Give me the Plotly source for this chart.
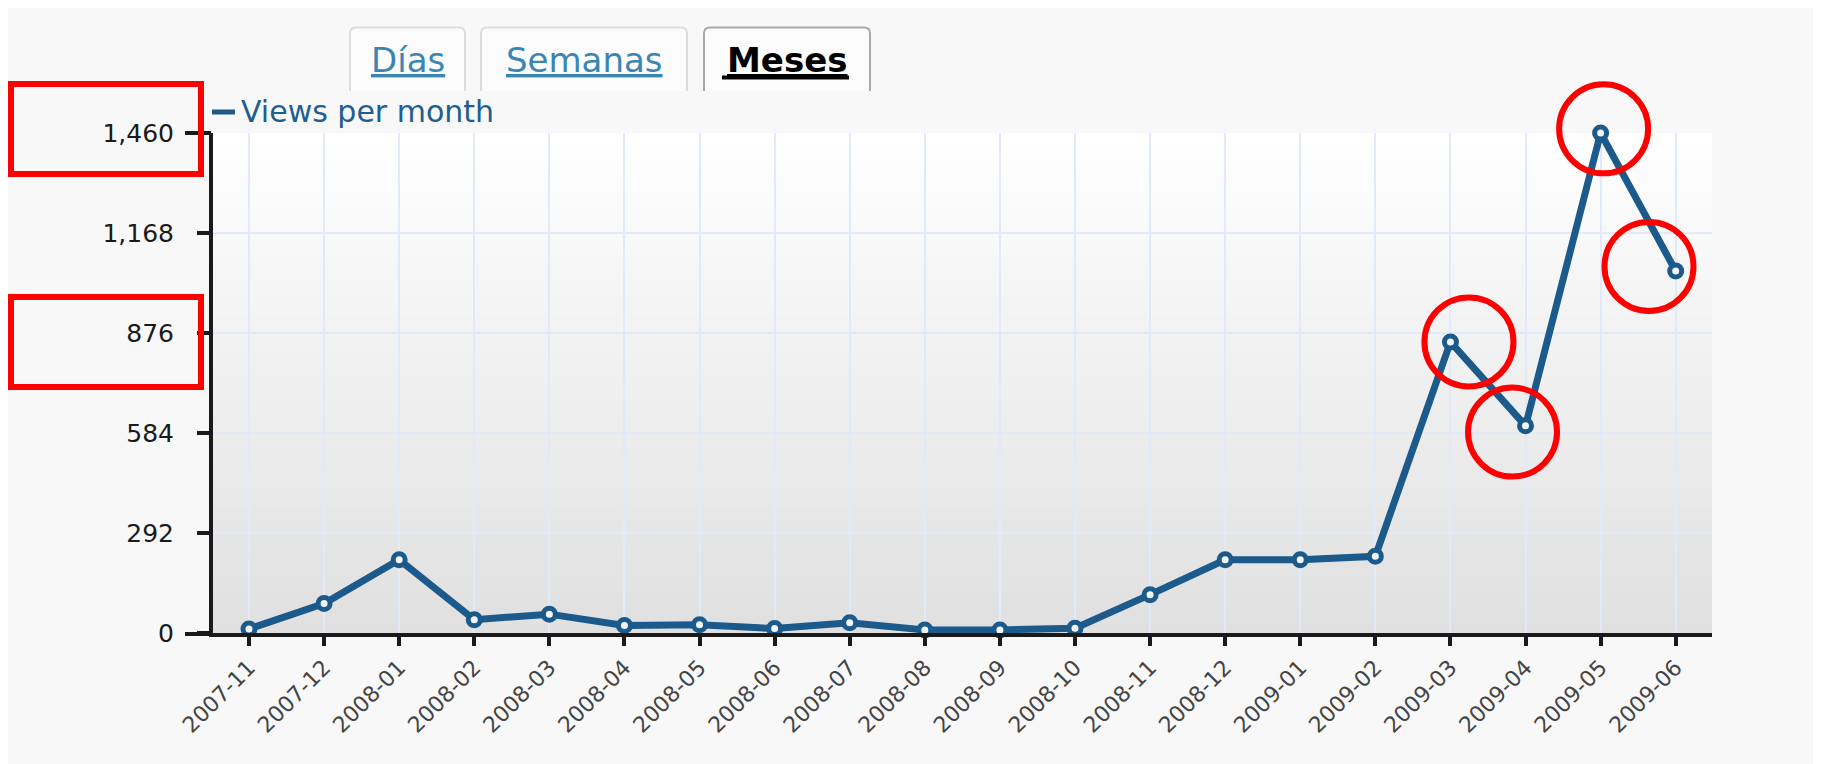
import plotly.graph_objects as go

# ---------------- data ----------------
MONTHS = ["2007-11", "2007-12", "2008-01", "2008-02", "2008-03", "2008-04",
          "2008-05", "2008-06", "2008-07", "2008-08", "2008-09", "2008-10",
          "2008-11", "2008-12", "2009-01", "2009-02", "2009-03", "2009-04",
          "2009-05", "2009-06"]
VIEWS = [12, 86, 214, 39, 55, 22, 24, 13, 30, 9, 9, 14,
         112, 214, 214, 224, 850, 605, 1460, 1057]
Y_TICKS = [0, 292, 584, 876, 1168, 1460]
SERIES_NAME = "Views per month"
TABS = ["Días", "Semanas", "Meses"]
HIGHLIGHT_MONTHS = ["2009-03", "2009-04", "2009-05", "2009-06"]
HIGHLIGHT_TICKS = [1460, 876]

# ---------------- geometry / style ----------------
OFF = 8  # page body margin
W, H = 1821 - OFF, 764 - OFF
# page-pixel plot edges: left 213, right 1712, top 133, bottom 633
L, T = 213 - OFF, 133 - OFF
R, B = W - (1712 - OFF), H - (633 - OFF)
PW, PH = W - L - R, H - T - B
LINE_COL = "#1b5a8b"
FONT = "DejaVu Sans"
Y_MAX = 1460
FIRST_PX, STEP_PX = 249, 75.09
X_RANGE = [(213 - FIRST_PX) / STEP_PX, (1712 - FIRST_PX) / STEP_PX]


def px2x(px):
    """page pixel -> paper x"""
    return (px - OFF - L) / PW


def px2y(py):
    """page pixel -> paper y"""
    return (H - B - (py - OFF)) / PH


shapes = []

# page background
shapes.append(dict(type="rect", xref="paper", yref="paper", layer="below",
                   x0=px2x(0), x1=px2x(1830), y0=px2y(770), y1=px2y(0),
                   fillcolor="#f8f8f8", line=dict(width=0)))

# vertical gradient in plot area
N = 60
top_rgb = (255, 255, 255)
bot_rgb = (224, 224, 224)
for i in range(N):
    t = (i + 0.5) / N
    c = tuple(round(b + (tp - b) * t) for tp, b in zip(top_rgb, bot_rgb))
    shapes.append(dict(type="rect", xref="x domain", yref="y domain", layer="below",
                       x0=0, x1=1, y0=i / N, y1=min(1, (i + 1.6) / N),
                       fillcolor="rgb(%d,%d,%d)" % c, line=dict(width=0)))

# short axis extensions at 0 and 1,460 on the left
for py in (634, 133):
    shapes.append(dict(type="line", xref="paper", yref="paper",
                       x0=px2x(185), x1=px2x(211), y0=px2y(py), y1=px2y(py),
                       line=dict(color="#1a1a1a", width=4)))

# tabs
tab_boxes = [(350, 465), (481, 687), (704, 870)]
tab_top, tab_bot, rad = 27.5, 91, 6


def P(px, py):
    return "%.6f,%.6f" % (px2x(px), px2y(py))


for k, (x0, x1) in enumerate(tab_boxes):
    path = ("M " + P(x0, tab_bot) + " L " + P(x0, tab_top + rad) +
            " Q " + P(x0, tab_top) + " " + P(x0 + rad, tab_top) +
            " L " + P(x1 - rad, tab_top) +
            " Q " + P(x1, tab_top) + " " + P(x1, tab_top + rad) +
            " L " + P(x1, tab_bot))
    shapes.append(dict(type="path", xref="paper", yref="paper", path=path,
                       fillcolor="#fcfcfc",
                       line=dict(color="#a9a9a9" if k == 2 else "#dcdcdc", width=2)))

# thicker underline for the active tab
shapes.append(dict(type="line", xref="paper", yref="paper",
                   x0=px2x(722), x1=px2x(849), y0=px2y(77.5), y1=px2y(77.5),
                   line=dict(color="#000000", width=4)))

# legend swatch
shapes.append(dict(type="line", xref="paper", yref="paper",
                   x0=px2x(212), x1=px2x(235), y0=px2y(112), y1=px2y(112),
                   line=dict(color=LINE_COL, width=5)))

# red highlight boxes around tick labels (vertical offset in px, up positive)
for v, dy in zip(HIGHLIGHT_TICKS, (4, -9)):
    yc = v / Y_MAX + dy / PH
    shapes.append(dict(type="rect", xref="paper", yref="paper",
                       x0=px2x(11), x1=px2x(201),
                       y0=yc - 45 / PH, y1=yc + 45 / PH,
                       line=dict(color="#ff0000", width=6)))

# red circles around the last points (pixel offsets from the point, up positive)
offsets = {"2009-03": (18.5, 0), "2009-04": (-13, -6.3),
           "2009-05": (3, 4.2), "2009-06": (-26.7, 4.6)}
RAD = 44.5
for m in HIGHLIGHT_MONTHS:
    i = MONTHS.index(m)
    dx, dy = offsets[m]
    xc = (i - X_RANGE[0]) / (X_RANGE[1] - X_RANGE[0]) + dx / PW
    yc = VIEWS[i] / Y_MAX + dy / PH
    shapes.append(dict(type="circle", xref="paper", yref="paper",
                       x0=xc - RAD / PW, x1=xc + RAD / PW,
                       y0=yc - RAD / PH, y1=yc + RAD / PH,
                       line=dict(color="#ff0000", width=6)))

annotations = []
tab_colors = ["#3a86b2", "#3a86b2", "#000000"]
for k, (name, (x0, x1)) in enumerate(zip(TABS, tab_boxes)):
    annotations.append(dict(
        xref="paper", yref="paper", x=px2x((x0 + x1) / 2), y=px2y(60),
        text=name, showarrow=False, xanchor="center", yanchor="middle",
        font=dict(family=FONT, size=34, color=tab_colors[k],
                  weight="bold" if k == 2 else "normal", lineposition="under")))

annotations.append(dict(
    xref="paper", yref="paper", x=px2x(239), y=px2y(112), text=SERIES_NAME,
    showarrow=False, xanchor="left", yanchor="middle",
    font=dict(family=FONT, size=30, color="#1f5e90")))

fig = go.Figure()
fig.add_trace(go.Scatter(
    x=MONTHS, y=VIEWS, mode="lines+markers", name=SERIES_NAME,
    line=dict(color=LINE_COL, width=7),
    marker=dict(symbol="circle", size=12, color="#f4f7fa",
                line=dict(color=LINE_COL, width=5)),
    cliponaxis=False, showlegend=False))

fig.update_layout(
    width=W, height=H,
    margin=dict(l=L, r=R, t=T, b=B, pad=0),
    paper_bgcolor="#f8f8f8",
    plot_bgcolor="rgba(0,0,0,0)",
    font=dict(family=FONT),
    showlegend=False,
    shapes=shapes,
    annotations=annotations,
    xaxis=dict(
        type="category", range=X_RANGE,
        tickangle=-45, tickfont=dict(family=FONT, size=22, color="#444444"),
        ticks="outside", ticklen=9, tickwidth=4, tickcolor="#1a1a1a",
        showline=True, linewidth=4, linecolor="#1a1a1a",
        showgrid=True, gridcolor="#e2eafa", gridwidth=2, zeroline=False,
        fixedrange=True),
    yaxis=dict(
        range=[0, Y_MAX], tickvals=Y_TICKS, tickformat=",d",
        tickfont=dict(family=FONT, size=25, color="#1a1a1a"),
        ticks="outside", ticklen=12, tickwidth=4, tickcolor="#1a1a1a",
        ticklabelstandoff=18,
        showline=True, linewidth=4, linecolor="#1a1a1a",
        showgrid=True, gridcolor="#e2eafa", gridwidth=2, zeroline=False,
        fixedrange=True),
)

fig.write_html("out.html")
